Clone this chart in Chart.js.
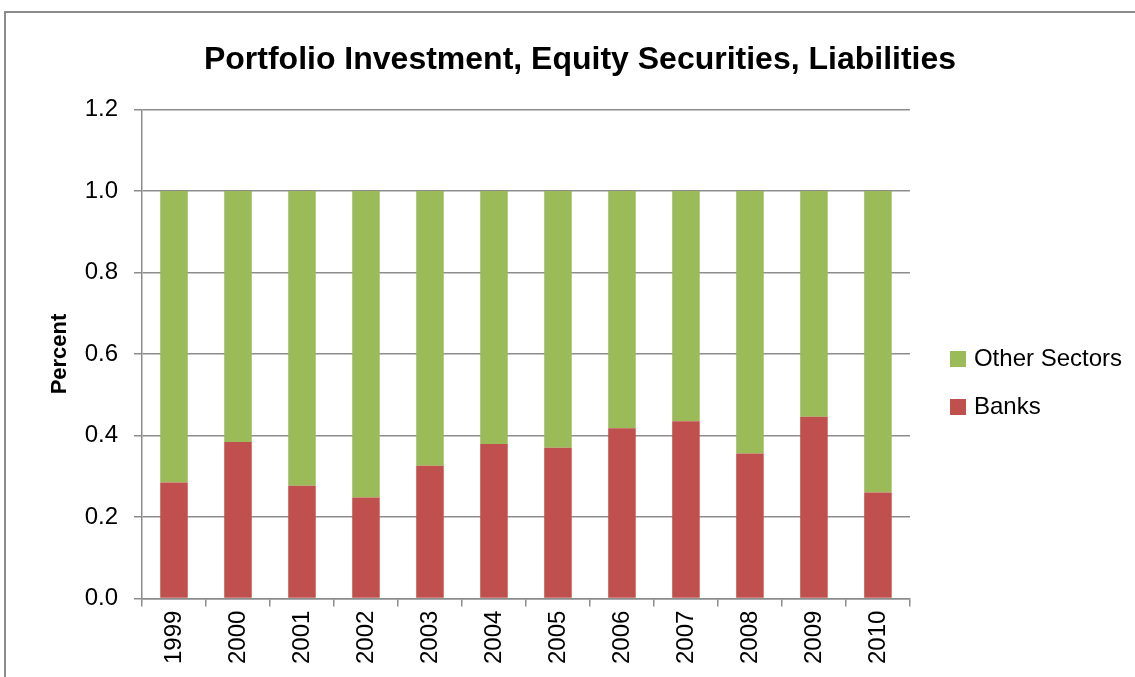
<!DOCTYPE html>
<html>
<head>
<meta charset="utf-8">
<script src="https://cdn.jsdelivr.net/npm/chart.js@4.4.0/dist/chart.umd.min.js"></script>
<style>
  html, body { margin: 0; padding: 0; background: #fff; }
  #frame {
    position: absolute; left: 4px; top: 11px; width: 1140px; height: 680px;
    border: 2px solid #8c8c8c; box-sizing: border-box;
  }
  #wrap { position: absolute; left: 0; top: 0; width: 1135px; height: 677px; }
</style>
</head>
<body>
<div id="frame"></div>
<div id="wrap"><canvas id="canvas"></canvas></div>
<script>
// dados
var years = ['1999','2000','2001','2002','2003','2004','2005','2006','2007','2008','2009','2010'];
var banks = [0.285, 0.384, 0.277, 0.248, 0.326, 0.379, 0.370, 0.418, 0.435, 0.356, 0.446, 0.260];
var otherSectors = [0.715, 0.616, 0.723, 0.752, 0.674, 0.621, 0.630, 0.582, 0.565, 0.644, 0.554, 0.740];
var yTicks = [0, 0.2, 0.4, 0.6, 0.8, 1.0, 1.2];

var fontFamily = "'Liberation Sans', Arial, sans-serif";
var gridColor = '#8c8c8c';

// marcador da legenda: quadrado encostado a direita, deixa o espaco antes dele vazio
var legendMarker = function (color) {
  var c = document.createElement('canvas');
  c.width = 36;
  c.height = 16;
  var g = c.getContext('2d');
  g.fillStyle = color;
  g.fillRect(20, 0, 16, 16);
  return c;
};

var createChart = function () {
  var ctx = document.getElementById('canvas').getContext('2d');
  window.equityChart = new Chart(ctx, {
    type: 'bar',
    data: {
      labels: years,
      datasets: [{
        label: 'Banks',
        backgroundColor: '#c0504d',
        data: banks
      }, {
        label: 'Other Sectors',
        backgroundColor: '#9bbb59',
        data: otherSectors
      }]
    },
    options: {
      responsive: true,
      maintainAspectRatio: false,
      animation: false,
      datasets: {
        bar: { barPercentage: 0.43, categoryPercentage: 1.0 }
      },
      layout: {
        padding: { left: 28, right: 3, top: 11, bottom: 9 }
      },
      plugins: {
        title: {
          display: true,
          text: 'Portfolio Investment, Equity Securities, Liabilities',
          color: '#000',
          font: { family: fontFamily, size: 32, weight: 'bold' },
          padding: { top: 30, bottom: 30 }
        },
        legend: {
          position: 'right',
          reverse: true,
          // titulo vazio so para descer a legenda
          title: { display: true, text: ' ', font: { size: 20 }, padding: { top: 63, bottom: 0 } },
          labels: {
            color: '#000',
            usePointStyle: true,
            pointStyleWidth: 28,
            padding: 24,
            font: { family: fontFamily, size: 24 },
            generateLabels: function (chart) {
              var items = Chart.defaults.plugins.legend.labels.generateLabels(chart);
              items.forEach(function (item) { item.pointStyle = legendMarker(item.fillStyle); });
              return items;
            }
          }
        },
        tooltip: { enabled: false }
      },
      scales: {
        x: {
          stacked: true,
          grid: { drawOnChartArea: false, drawTicks: true, tickLength: 8, color: gridColor, lineWidth: 1.5 },
          border: { color: gridColor, width: 1.5 },
          ticks: {
            color: '#000',
            minRotation: 90,
            maxRotation: 90,
            padding: 4,
            font: { family: fontFamily, size: 24 }
          }
        },
        y: {
          stacked: true,
          min: 0,
          max: 1.2,
          afterBuildTicks: function (axis) {
            axis.ticks = yTicks.map(function (v) { return { value: v }; });
          },
          afterFit: function (axis) { axis.width = 114; },
          grid: { color: gridColor, lineWidth: 1.5, tickLength: 8 },
          border: { color: gridColor, width: 1.5 },
          ticks: {
            color: '#000',
            padding: 16,
            font: { family: fontFamily, size: 24 },
            callback: function (v) { return Number(v).toFixed(1); }
          },
          title: {
            display: true,
            text: 'Percent',
            color: '#000',
            font: { family: fontFamily, size: 22, weight: 'bold' },
            padding: { top: 19, bottom: 4 }
          }
        }
      }
    }
  });
};

createChart();
</script>
</body>
</html>
